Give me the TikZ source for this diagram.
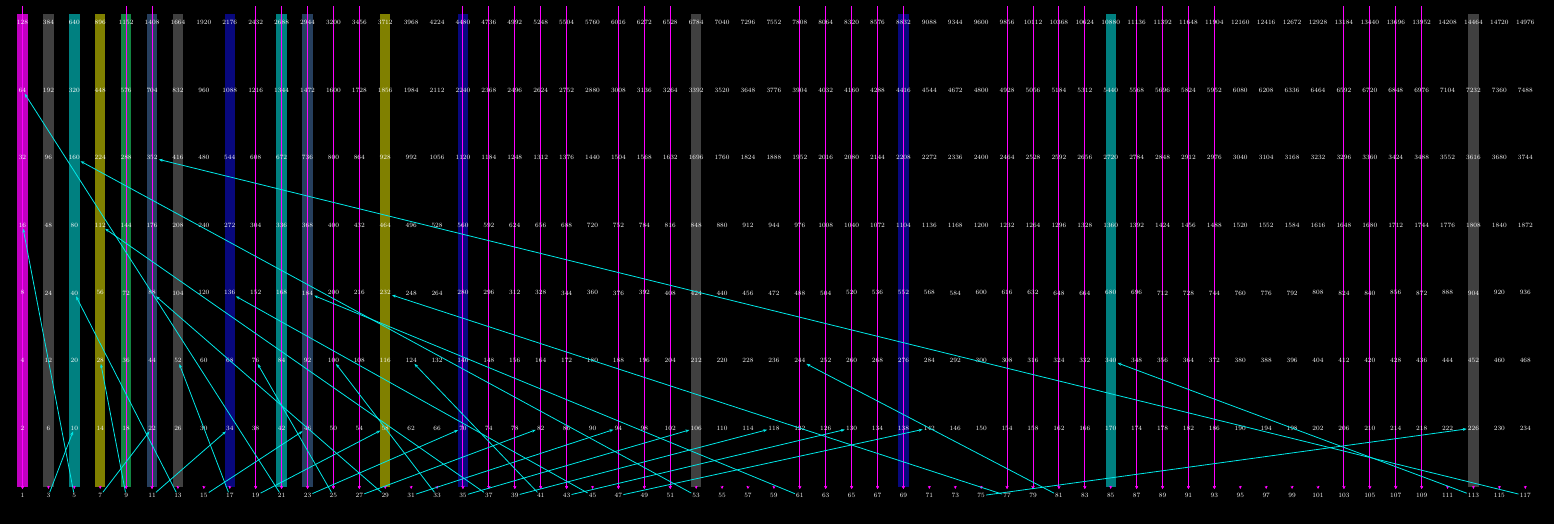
\documentclass[tikz,border=0pt]{standalone}
\usetikzlibrary{arrows.meta}
\definecolor{barmag}{RGB}{192,0,192}
\definecolor{bargrey}{RGB}{64,64,64}
\definecolor{barteal}{RGB}{0,128,128}
\definecolor{barolive}{RGB}{128,128,0}
\definecolor{bargreen}{RGB}{18,132,66}
\definecolor{barslate}{RGB}{38,63,94}
\definecolor{barnavy}{RGB}{8,8,126}
\definecolor{dropmag}{RGB}{255,0,255}
\definecolor{hopcyan}{RGB}{0,232,232}
\begin{document}
\begin{tikzpicture}[x=1pt,y=-1pt,
  num/.style={text=white,font=\fontsize{6.5}{7}\selectfont,inner sep=1pt},
  hop/.style={draw=hopcyan,line width=0.8pt,-{Stealth[length=4pt,width=3pt]}},
  drop/.style={draw=dropmag,line width=1pt,-{Stealth[length=3pt,width=3pt]}}]
  \fill[black] (0,0) rectangle (1554,524);

  % coloured columns
  \foreach \n/\col in {1/barmag,3/bargrey,5/barteal,7/barolive,9/bargreen,11/barslate,
                       13/bargrey,17/barnavy,21/barteal,23/barslate,29/barolive,35/barnavy,
                       53/bargrey,69/barnavy,85/barteal,113/bargrey}
    \fill[\col] ({22.5+25.91*(\n-1)/2-5.2},14) rectangle ({22.5+25.91*(\n-1)/2+5.2},487);

  % small marks, then the long magenta drops
  \foreach \n [count=\k from 0] in {1,3,...,117}
    \draw[drop] ({22.5+25.91*\k},485.5) -- ({22.5+25.91*\k},489);
  \foreach \n in {1,9,11,19,21,23,25,27,35,37,39,41,43,47,49,51,61,63,65,67,69,
                  77,79,81,83,87,89,91,93,103,105,107,109}
    \draw[drop] ({22.5+25.91*(\n-1)/2},6) -- ({22.5+25.91*(\n-1)/2},489);

  % the numbers n * 2^e
  \foreach \n [count=\k from 0] in {1,3,...,117} {
    \pgfmathsetmacro\cx{22.5+25.91*\k}
    \node[num] (c\n) at (\cx,495.7) {\n};
    \foreach \e in {1,...,7} {
      \pgfmathtruncatemacro\v{\n*2^\e}
      \node[num] (c\n r\e) at (\cx,{428-67.55*(\e-1)}) {\v};
    }
  }

  \draw[hop] (c3) -- (c5r1);
  \draw[hop] (c5) -- (c1r4);
  \draw[hop] (c7) -- (c11r1);
  \draw[hop] (c9) -- (c7r2);
  \draw[hop] (c11) -- (c17r1);
  \draw[hop] (c13) -- (c5r3);
  \draw[hop] (c15) -- (c23r1);
  \draw[hop] (c17) -- (c13r2);
  \draw[hop] (c19) -- (c29r1);
  \draw[hop] (c21) -- (c1r6);
  \draw[hop] (c23) -- (c35r1);
  \draw[hop] (c25) -- (c19r2);
  \draw[hop] (c27) -- (c41r1);
  \draw[hop] (c29) -- (c11r3);
  \draw[hop] (c31) -- (c47r1);
  \draw[hop] (c33) -- (c25r2);
  \draw[hop] (c35) -- (c53r1);
  \draw[hop] (c37) -- (c7r4);
  \draw[hop] (c39) -- (c59r1);
  \draw[hop] (c41) -- (c31r2);
  \draw[hop] (c43) -- (c65r1);
  \draw[hop] (c45) -- (c17r3);
  \draw[hop] (c47) -- (c71r1);
  \draw[hop] (c53) -- (c5r5);
  \draw[hop] (c61) -- (c23r3);
  \draw[hop] (c75) -- (c113r1);
  \draw[hop] (c77) -- (c29r3);
  \draw[hop] (c81) -- (c61r2);
  \draw[hop] (c113) -- (c85r2);
  \draw[hop] (c117) -- (c11r5);
\end{tikzpicture}
\end{document}
